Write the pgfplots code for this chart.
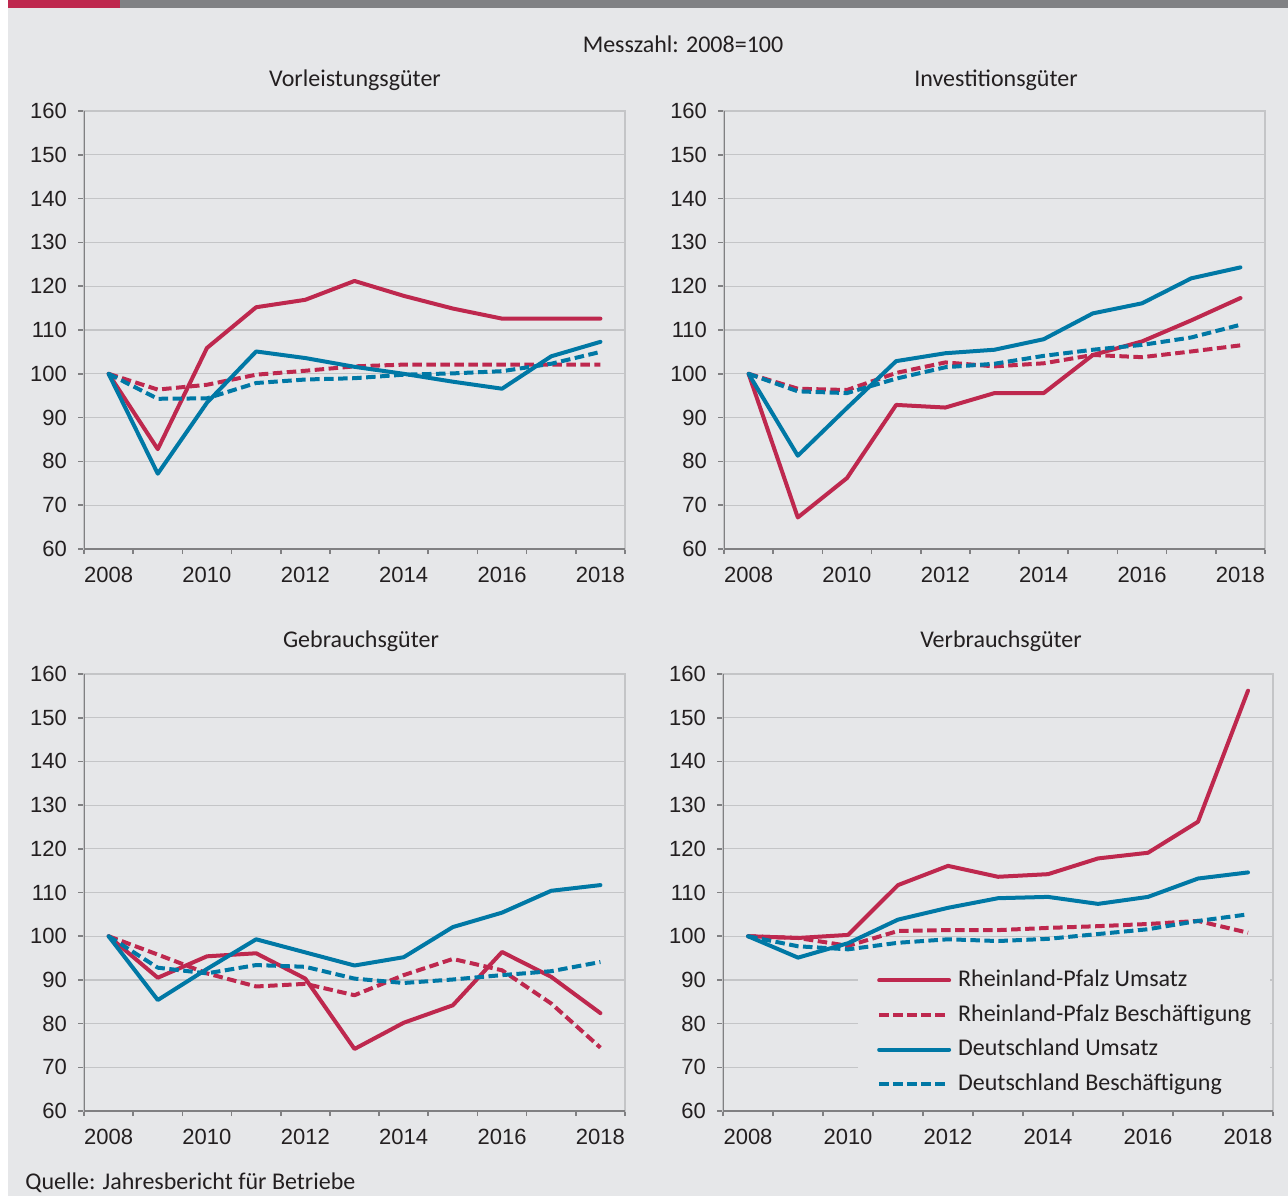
\documentclass[border=0pt]{standalone}
\usepackage{pgfplots}
\usepackage{pgfplotstable}
\pgfplotsset{compat=1.18}
\usepackage{fontspec}
\setmainfont{Carlito}
\newfontfamily\tickfont{Liberation Sans}

\definecolor{bgc}{RGB}{230,231,233}
\definecolor{redc}{RGB}{190,40,78}
\definecolor{bluec}{RGB}{0,120,165}
\definecolor{gridc}{RGB}{196,197,199}
\definecolor{axisc}{RGB}{128,128,130}
\definecolor{barg}{RGB}{128,129,132}
\definecolor{txtc}{RGB}{35,31,32}

\pgfplotstableread{
year rpU rpB deU deB
2008 100 100 100 100
2009 82.8 96.4 77.2 94.3
2010 105.9 97.5 93.4 94.4
2011 115.2 99.8 105.1 97.9
2012 116.9 100.7 103.6 98.7
2013 121.2 101.7 101.6 99.0
2014 117.8 102.1 100.0 99.8
2015 114.9 102.1 98.2 100.1
2016 112.6 102.1 96.6 100.6
2017 112.6 102.1 104.0 102.3
2018 112.6 102.1 107.3 105.0
}\vorl

\pgfplotstableread{
year rpU rpB deU deB
2008 100 100 100 100
2009 67.2 96.6 81.3 96.0
2010 76.2 96.3 92.2 95.6
2011 92.9 100.2 102.9 98.9
2012 92.3 102.6 104.7 101.5
2013 95.6 101.7 105.5 102.3
2014 95.6 102.4 107.9 104.1
2015 104.3 104.3 113.8 105.5
2016 107.4 103.8 116.1 106.6
2017 112.2 105.1 121.8 108.3
2018 117.3 106.5 124.3 111.2
}\inve

\pgfplotstableread{
year rpU rpB deU deB
2008 100 100 100 100
2009 90.5 95.8 85.4 92.8
2010 95.4 91.5 92.5 91.5
2011 96.1 88.5 99.3 93.4
2012 90.3 89.1 96.3 93.0
2013 74.2 86.5 93.3 90.3
2014 80.2 91.1 95.2 89.3
2015 84.2 94.8 102.1 90.1
2016 96.4 92.2 105.4 91.1
2017 90.7 84.6 110.4 92.0
2018 82.4 74.5 111.7 94.1
}\gebr

\pgfplotstableread{
year rpU rpB deU deB
2008 100 100 100 100
2009 99.6 99.6 95.1 97.7
2010 100.3 97.8 98.4 97.0
2011 111.7 101.2 103.8 98.5
2012 116.1 101.4 106.5 99.3
2013 113.6 101.4 108.7 98.9
2014 114.2 101.9 109.0 99.4
2015 117.8 102.3 107.4 100.5
2016 119.1 102.8 109.0 101.6
2017 126.2 103.5 113.2 103.5
2018 156.2 100.8 114.6 105.0
}\verb

\pgfplotsset{
  panel/.style={
    scale only axis, width=270.5pt, height=219pt,
    xmin=2007.5, xmax=2018.5, ymin=60, ymax=160,
    xtick={2008,2010,2012,2014,2016,2018},
    xticklabels={2008,2010,2012,2014,2016,2018},
    minor xtick={2007.5,2008.5,2009.5,2010.5,2011.5,2012.5,2013.5,2014.5,2015.5,2016.5,2017.5,2018.5},
    ytick={60,70,...,160},
    tick pos=left, tick align=outside,
    major tick length=3pt, minor tick length=2.5pt,
    major x tick style={draw=none},
    minor x tick style={draw=axisc, line width=0.8pt},
    ytick style={draw=axisc, line width=0.8pt},
    ymajorgrids, grid style={gridc, line width=0.6pt},
    axis line style={gridc, line width=0.6pt},
    tick label style={font=\tickfont\fontsize{11}{12}\selectfont, text=txtc},
    xticklabel style={yshift=-2.5pt},
    yticklabel style={xshift=-2pt},
    /pgf/number format/assume math mode=true,
    axis background/.style={fill=bgc},
  },
  rpU/.style={redc, line width=2pt, line join=round, line cap=round},
  rpB/.style={redc, line width=2pt, line join=round, line cap=butt, dash pattern=on 4.75pt off 2.25pt},
  deU/.style={bluec, line width=2pt, line join=round, line cap=round},
  deB/.style={bluec, line width=2pt, line join=round, line cap=butt, dash pattern=on 4.75pt off 2.25pt},
}

\newcommand{\frameaxis}{\draw[axisc, line width=0.9pt] (rel axis cs:0,1) -- (rel axis cs:0,0) -- (rel axis cs:1,0);}

\begin{document}
\begin{tikzpicture}
\path[use as bounding box, fill=white] (0pt,0pt) rectangle (644pt,-598pt);
\fill[bgc] (4pt,-3.5pt) rectangle (644pt,-598pt);
\fill[redc] (4pt,0pt) rectangle (60pt,-4pt);
\fill[barg] (60pt,0pt) rectangle (644pt,-4pt);

\node[anchor=base, text=txtc, font=\fontsize{12}{14}\selectfont] at (341.5pt,-26pt) {Messzahl: 2008=100};
\node[anchor=base, text=txtc, font=\fontsize{12}{14}\selectfont] at (177.5pt,-43pt) {Vorleistungsgüter};
\node[anchor=base, text=txtc, font=\fontsize{12}{14}\selectfont] at (498pt,-43pt) {Investitionsgüter};
\node[anchor=base, text=txtc, font=\fontsize{12}{14}\selectfont] at (180.5pt,-323.5pt) {Gebrauchsgüter};
\node[anchor=base, text=txtc, font=\fontsize{12}{14}\selectfont] at (500.5pt,-323.5pt) {Verbrauchsgüter};
\node[anchor=base west, inner sep=0pt, text=txtc, font=\fontsize{12}{14}\selectfont] at (12.5pt,-594.5pt) {Quelle: Jahresbericht für Betriebe};

\begin{axis}[panel, at={(42pt,-274.5pt)}, anchor=south west]
\addplot[rpU] table[x=year,y=rpU]{\vorl};
\addplot[rpB] table[x=year,y=rpB]{\vorl};
\addplot[deU] table[x=year,y=deU]{\vorl};
\addplot[deB] table[x=year,y=deB]{\vorl};
\frameaxis
\end{axis}

\begin{axis}[panel, at={(362pt,-274.5pt)}, anchor=south west]
\addplot[rpU] table[x=year,y=rpU]{\inve};
\addplot[rpB] table[x=year,y=rpB]{\inve};
\addplot[deU] table[x=year,y=deU]{\inve};
\addplot[deB] table[x=year,y=deB]{\inve};
\frameaxis
\end{axis}

\begin{axis}[panel, height=218.5pt, at={(42pt,-555.5pt)}, anchor=south west]
\addplot[rpU] table[x=year,y=rpU]{\gebr};
\addplot[rpB] table[x=year,y=rpB]{\gebr};
\addplot[deU] table[x=year,y=deU]{\gebr};
\addplot[deB] table[x=year,y=deB]{\gebr};
\frameaxis
\end{axis}

\begin{axis}[panel, width=275pt, height=218.5pt, at={(361.5pt,-555.5pt)}, anchor=south west,
  legend style={at={(0.245,0.3455)}, anchor=north west, fill=bgc, draw=none,
    inner xsep=9.5pt, inner ysep=4pt, font=\fontsize{12}{14}\selectfont, text=txtc,
    row sep=5.3pt, column sep=3.5pt,
    nodes={inner sep=0pt, text height=9pt, text depth=3pt}},
  legend cell align=left,
  legend image code/.code={\draw[#1] (0pt,0pt) -- (35pt,0pt);},
]
\addplot[rpU] table[x=year,y=rpU]{\verb};
\addlegendentry{Rheinland-Pfalz Umsatz}
\addplot[rpB] table[x=year,y=rpB]{\verb};
\addlegendentry{Rheinland-Pfalz Beschäftigung}
\addplot[deU] table[x=year,y=deU]{\verb};
\addlegendentry{Deutschland Umsatz}
\addplot[deB] table[x=year,y=deB]{\verb};
\addlegendentry{Deutschland Beschäftigung}
\frameaxis
\end{axis}
\end{tikzpicture}
\end{document}
